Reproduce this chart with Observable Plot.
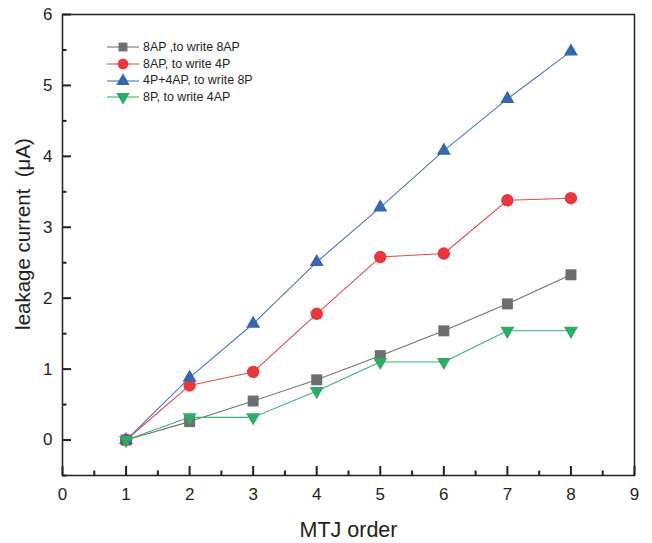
<!DOCTYPE html>
<html>
<head>
<meta charset="utf-8">
<script src="https://cdn.jsdelivr.net/npm/d3@7"></script>
<script src="https://cdn.jsdelivr.net/npm/@observablehq/plot@0.6"></script>
<style>
  body { margin: 0; background: #fff; font-family: "Liberation Sans", Arial, sans-serif; color: #231f20; }
  #wrap { position: relative; width: 652px; height: 543px; }
  #legend { position: absolute; left: 105px; top: 39px; font-size: 12.4px; color: #231f20; line-height: 16.7px; }
  #legend div { display: flex; align-items: center; height: 16.7px; }
  #legend svg { margin-right: 2px; }
</style>
</head>
<body>
<div id="wrap"><div id="legend"></div></div>
<script>
const mtjOrder = [1, 2, 3, 4, 5, 6, 7, 8];
const seriesNames = ["8AP ,to write 8AP", "8AP, to write 4P", "4P+4AP, to write 8P", "8P, to write 4AP"];
const s8APto8AP = [0, 0.26, 0.55, 0.85, 1.19, 1.54, 1.92, 2.33];
const s8APto4P = [0, 0.77, 0.96, 1.78, 2.58, 2.63, 3.38, 3.41];
const s4P4APto8P = [0, 0.88, 1.64, 2.51, 3.28, 4.08, 4.81, 5.48];
const s8Pto4AP = [0, 0.32, 0.32, 0.69, 1.10, 1.10, 1.54, 1.54];
const xTicks = [0, 1, 2, 3, 4, 5, 6, 7, 8, 9];
const xMinor = [0.5, 1.5, 2.5, 3.5, 4.5, 5.5, 6.5, 7.5, 8.5];
const yTicks = [0, 1, 2, 3, 4, 5, 6];
const yMinor = [-0.5, 0.5, 1.5, 2.5, 3.5, 4.5, 5.5];
const xDomain = [0, 9];
const yDomain = [-0.5, 6];
const colors = ["#6d6e71", "#e8383d", "#3566b0", "#2faa64"];
const lineColors = ["#727272", "#e8464b", "#4a76bd", "#3fb06f"];

const triangleDown = {
  draw(context, size) {
    const y = -Math.sqrt(size / (Math.sqrt(3) * 3));
    context.moveTo(0, -y * 2);
    context.lineTo(-Math.sqrt(3) * y, y);
    context.lineTo(Math.sqrt(3) * y, y);
    context.closePath();
  }
};
const symbols = ["square", "circle", "triangle", triangleDown];
const radii = [6.2, 6.2, 5.2, 5.2];
const legendRadii = [5.0, 5.4, 5.0, 5.0];

const plotW = 652, plotH = 543, mL = 62, mR = 18, mT = 14, mB = 68;
const frameW = plotW - mL - mR, frameH = plotH - mT - mB;
const majorLen = 9, minorLen = 4.5;

const allSeries = [s8APto8AP, s8APto4P, s4P4APto8P, s8Pto4AP];
const marks = [];
allSeries.forEach((vals, i) => {
  const data = mtjOrder.map((x, j) => ({x, y: vals[j]}));
  marks.push(Plot.line(data, {x: "x", y: "y", stroke: lineColors[i], strokeWidth: 1.1}));
});
allSeries.forEach((vals, i) => {
  const data = mtjOrder.map((x, j) => ({x, y: vals[j]}));
  marks.push(Plot.dot(data, {x: "x", y: "y", symbol: () => symbols[i], fill: colors[i], stroke: "none", r: radii[i]}));
});

const ink = "#231f20";
const chart = Plot.plot({
  width: plotW,
  height: plotH,
  marginLeft: mL,
  marginRight: mR,
  marginTop: mT,
  marginBottom: mB,
  style: "font-family: 'Liberation Sans', Arial, sans-serif;",
  symbol: {type: "identity"},
  x: {domain: xDomain, label: null},
  y: {domain: yDomain, label: null},
  marks: [
    Plot.ruleX(xTicks, {x: (d) => d, insetTop: frameH - majorLen, stroke: ink, strokeWidth: 2}),
    Plot.ruleX(xMinor, {x: (d) => d, insetTop: frameH - minorLen, stroke: ink, strokeWidth: 2}),
    Plot.ruleY(yTicks, {y: (d) => d, insetRight: frameW - majorLen, stroke: ink, strokeWidth: 2}),
    Plot.ruleY(yMinor, {y: (d) => d, insetRight: frameW - minorLen, stroke: ink, strokeWidth: 2}),
    Plot.axisX(xTicks, {tickSize: 0, tickPadding: 12, fontSize: 17, label: null, fill: ink, tickFormat: "d"}),
    Plot.axisY(yTicks, {tickSize: 0, tickPadding: 10, fontSize: 17, label: null, fill: ink, tickFormat: "d"}),
    Plot.text(["MTJ order"], {frameAnchor: "bottom", lineAnchor: "middle", dy: 55, fontSize: 21.5, fill: ink}),
    Plot.text(["leakage current  (\u03bcA)"], {frameAnchor: "left", textAnchor: "middle", dx: -39, dy: -11, rotate: -90, fontSize: 20.5, fill: ink}),
    ...marks,
    Plot.frame({stroke: ink, strokeWidth: 1.5})
  ]
});
document.getElementById("wrap").prepend(chart);

const legend = document.getElementById("legend");
seriesNames.forEach((name, i) => {
  const row = document.createElement("div");
  const sym = d3.create("svg").attr("width", 36).attr("height", 16);
  sym.append("line").attr("x1", 2).attr("x2", 34).attr("y1", 8).attr("y2", 8).attr("stroke", lineColors[i]).attr("stroke-width", 1.1);
  const s = symbols[i];
  const gen = d3.symbol().type(typeof s === "string" ? {square: d3.symbolSquare, circle: d3.symbolCircle, triangle: d3.symbolTriangle}[s] : s).size(Math.PI * legendRadii[i] * legendRadii[i]);
  sym.append("path").attr("d", gen()).attr("transform", "translate(18,8)").attr("fill", colors[i]);
  row.appendChild(sym.node());
  const t = document.createElement("span");
  t.textContent = name;
  row.appendChild(t);
  legend.appendChild(row);
});
</script>
</body>
</html>
